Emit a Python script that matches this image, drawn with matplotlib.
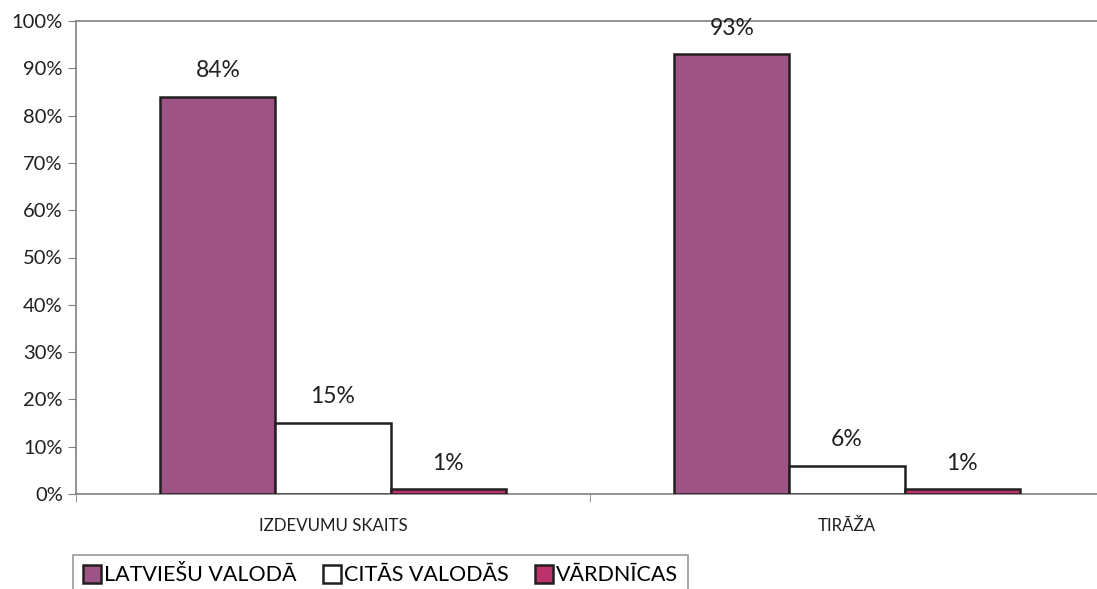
import matplotlib

matplotlib.use("Agg", force=True)
import matplotlib.pyplot as plt
import numpy as np

CATEGORIES = ["IZDEVUMU SKAITS", "TIRĀŽA"]
SERIES = ["LATVIEŠU VALODĀ", "CITĀS VALODĀS", "VĀRDNĪCAS"]
VALUES = {
    "LATVIEŠU VALODĀ": [84, 93],
    "CITĀS VALODĀS": [15, 6],
    "VĀRDNĪCAS": [1, 1],
}
COLORS = {
    "LATVIEŠU VALODĀ": "#9d5484",
    "CITĀS VALODĀS": "#ffffff",
    "VĀRDNĪCAS": "#bc336c",
}
Y_TICKS = [0, 10, 20, 30, 40, 50, 60, 70, 80, 90, 100]

plt.rcParams["font.family"] = ["Lato", "DejaVu Sans"]

fig = plt.figure(figsize=(10.97, 5.89), dpi=100)
ax = fig.add_axes([76 / 1097, 95 / 589, 1028 / 1097, 473 / 589])

x = np.arange(len(CATEGORIES))
width = 0.224
offsets = [-width, 0.0, width]
for name, off in zip(SERIES, offsets):
    vals = VALUES[name]
    bars = ax.bar(x + off, vals, width=width, color=COLORS[name], edgecolor="#231f20",
                  linewidth=1.8, label=name, zorder=3)
    for bar, v in zip(bars, vals):
        ax.text(bar.get_x() + bar.get_width() / 2, v + 3.3, f"{v}%", ha="center", va="bottom",
                fontsize=16.5, color="#231f20")

ax.set_xlim(-0.5, 1.5)
ax.set_ylim(0, 100)
ax.set_yticks(Y_TICKS, [f"{t}%" for t in Y_TICKS])
ax.set_xticks(x, CATEGORIES)
ax.set_xticks([-0.5, 0.5, 1.5], minor=True)
ax.tick_params(axis="x", which="major", length=0, pad=17, labelsize=12.2, colors="#231f20")
ax.tick_params(axis="x", which="minor", length=6, color="#808080", direction="out")
ax.tick_params(axis="y", length=6, color="#808080", labelsize=14.5, colors="#231f20", direction="out")
for sp in ["left", "bottom", "top"]:
    ax.spines[sp].set_color("#808080")
    ax.spines[sp].set_linewidth(1.2)
ax.spines["right"].set_visible(False)

leg = fig.legend(loc="center left", bbox_to_anchor=(73 / 1097, 1 - 575 / 589), ncol=3,
                 frameon=True, fancybox=False, edgecolor="#808080", fontsize=15.5,
                 handlelength=0.85, handleheight=0.95, handletextpad=0.15, columnspacing=1.2,
                 borderpad=0.45, borderaxespad=0)
leg.get_frame().set_linewidth(1.2)

fig.savefig("out.png", dpi=100)
plt.close(fig)
